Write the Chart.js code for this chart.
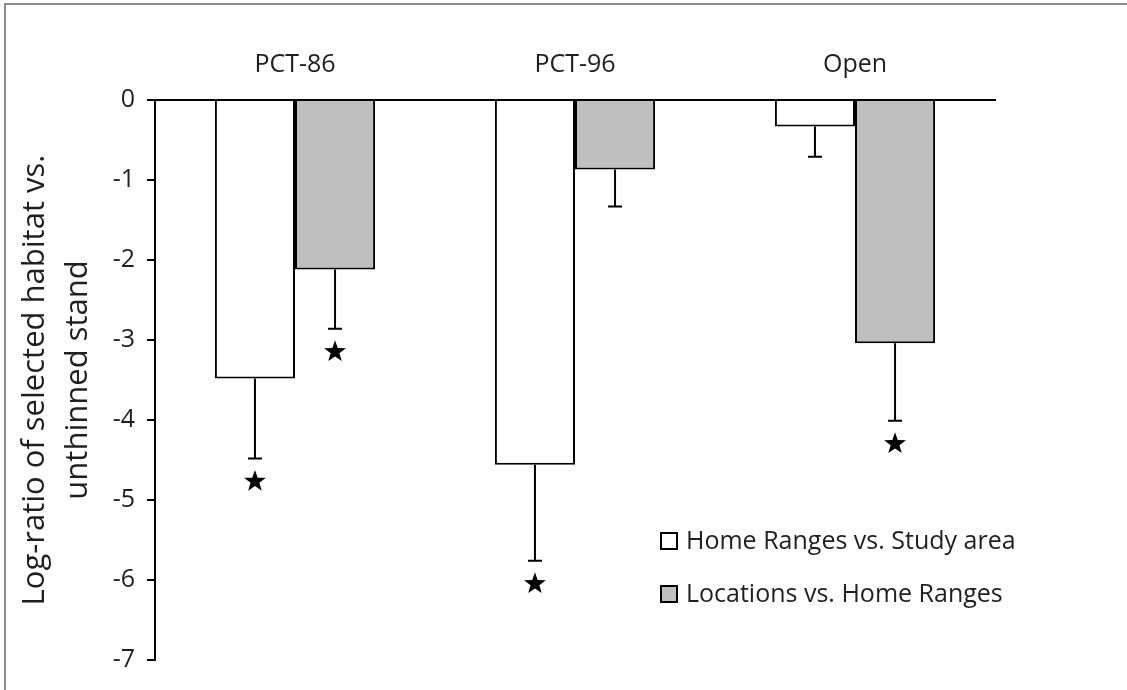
<!DOCTYPE html>
<html>
<head>
<meta charset="utf-8">
<script src="https://cdn.jsdelivr.net/npm/chart.js@4.4.1/dist/chart.umd.min.js"></script>
<style>
  html, body { margin: 0; padding: 0; background: #fff; }
  #wrap { position: relative; width: 1127px; height: 690px; }
  #frame { position: absolute; left: 4px; top: 3px; right: -10px; bottom: -10px;
           border-top: 2px solid #8c8c8c; border-left: 2px solid #8c8c8c;
           pointer-events: none; }
</style>
</head>
<body>
<div id="wrap">
  <canvas id="c" width="1127" height="690"></canvas>
  <div id="frame"></div>
</div>
<script>
// ---- data ----
const categories = ['PCT-86', 'PCT-96', 'Open'];
const seriesNames = ['Home Ranges vs. Study area', 'Locations vs. Home Ranges'];
const homeRanges = [-3.48, -4.56, -0.33];
const homeRangesErr = [1.00, 1.20, 0.38];
const homeRangesSig = [true, true, false];
const locations = [-2.12, -0.87, -3.04];
const locationsErr = [0.74, 0.46, 0.97];
const locationsSig = [true, false, true];
const yTicks = [0, -1, -2, -3, -4, -5, -6, -7];

const FONT = '"Open Sans", Lato, sans-serif';
const TXT = '#1f1f1f';

function drawStar(ctx, cx, cy, R, r) {
  ctx.beginPath();
  for (let i = 0; i < 10; i++) {
    const rad = i % 2 === 0 ? R : r;
    const a = -Math.PI / 2 + i * Math.PI / 5;
    const x = cx + rad * Math.cos(a), y = cy + rad * Math.sin(a);
    if (i === 0) ctx.moveTo(x, y); else ctx.lineTo(x, y);
  }
  ctx.closePath();
  ctx.fill();
}

const errorPlugin = {
  id: 'errbars',
  afterDatasetsDraw(chart) {
    const ctx = chart.ctx;
    const y = chart.scales.y;
    ctx.save();
    ctx.strokeStyle = '#000';
    ctx.fillStyle = '#000';
    ctx.lineWidth = 2;
    chart.data.datasets.forEach((ds, di) => {
      const meta = chart.getDatasetMeta(di);
      meta.data.forEach((bar, i) => {
        const v = ds.data[i];
        const e = ds.err[i];
        const x = bar.x;
        const y0 = y.getPixelForValue(v);
        const y1 = y.getPixelForValue(v - e);
        ctx.beginPath();
        ctx.moveTo(x, y0);
        ctx.lineTo(x, y1);
        ctx.moveTo(x - 7, y1);
        ctx.lineTo(x + 7, y1);
        ctx.stroke();
        if (ds.sig[i]) {
          drawStar(ctx, x, y1 + 23, 11.5, 4.6);
        }
      });
    });
    ctx.restore();
  }
};

const legendPlugin = {
  id: 'innerLegend',
  afterDraw(chart) {
    const ctx = chart.ctx;
    const ca = chart.chartArea;
    ctx.save();
    ctx.font = '25px ' + FONT;
    ctx.textBaseline = 'middle';
    ctx.textAlign = 'left';
    const x0 = ca.left + 506;
    const ys = [ca.top + 441, ca.top + 494];
    chart.data.datasets.forEach((ds, i) => {
      const yy = ys[i];
      ctx.fillStyle = ds.backgroundColor;
      ctx.fillRect(x0, yy - 8, 16, 16);
      ctx.strokeStyle = '#000';
      ctx.lineWidth = 2;
      ctx.strokeRect(x0, yy - 8, 16, 16);
      ctx.fillStyle = TXT;
      ctx.fillText(ds.label, x0 + 25, yy + 1);
    });
    ctx.restore();
  }
};

new Chart(document.getElementById('c'), {
  type: 'bar',
  data: {
    labels: categories,
    datasets: [
      { label: seriesNames[0], data: homeRanges, err: homeRangesErr, sig: homeRangesSig,
        backgroundColor: '#ffffff', borderColor: '#000', borderWidth: 2 },
      { label: seriesNames[1], data: locations, err: locationsErr, sig: locationsSig,
        backgroundColor: '#bfbfbf', borderColor: '#000', borderWidth: 2 }
    ]
  },
  options: {
    responsive: false,
    animation: false,
    layout: { padding: { left: 0, top: 10, right: 132, bottom: 30 } },
    datasets: { bar: { barPercentage: 1.0, categoryPercentage: 0.572, borderSkipped: 'start' } },
    plugins: { legend: { display: false }, tooltip: { enabled: false } },
    scales: {
      x: {
        position: 'top',
        grid: { display: false, drawTicks: false },
        border: { display: true, color: '#000', width: 2 },
        ticks: { font: { family: FONT, size: 25 }, color: TXT, padding: 20 },
        afterFit: (s) => { s.height = 90; }
      },
      y: {
        min: -7, max: 0,
        afterBuildTicks: (s) => { s.ticks = yTicks.map(v => ({ value: v })); },
        grid: { display: true, drawOnChartArea: false, drawTicks: true, tickLength: 8, color: '#000', lineWidth: 2 },
        border: { display: true, color: '#000', width: 2 },
        ticks: { font: { family: FONT, size: 25 }, color: TXT, padding: 12 },
        title: {
          display: true,
          text: ['Log-ratio of selected habitat vs.', 'unthinned stand'],
          font: { family: FONT, size: 31, lineHeight: 1.39 },
          color: TXT,
          padding: { top: 14, bottom: 0 }
        },
        afterFit: (s) => { s.width = 155; }
      }
    }
  },
  plugins: [errorPlugin, legendPlugin]
});
</script>
</body>
</html>
